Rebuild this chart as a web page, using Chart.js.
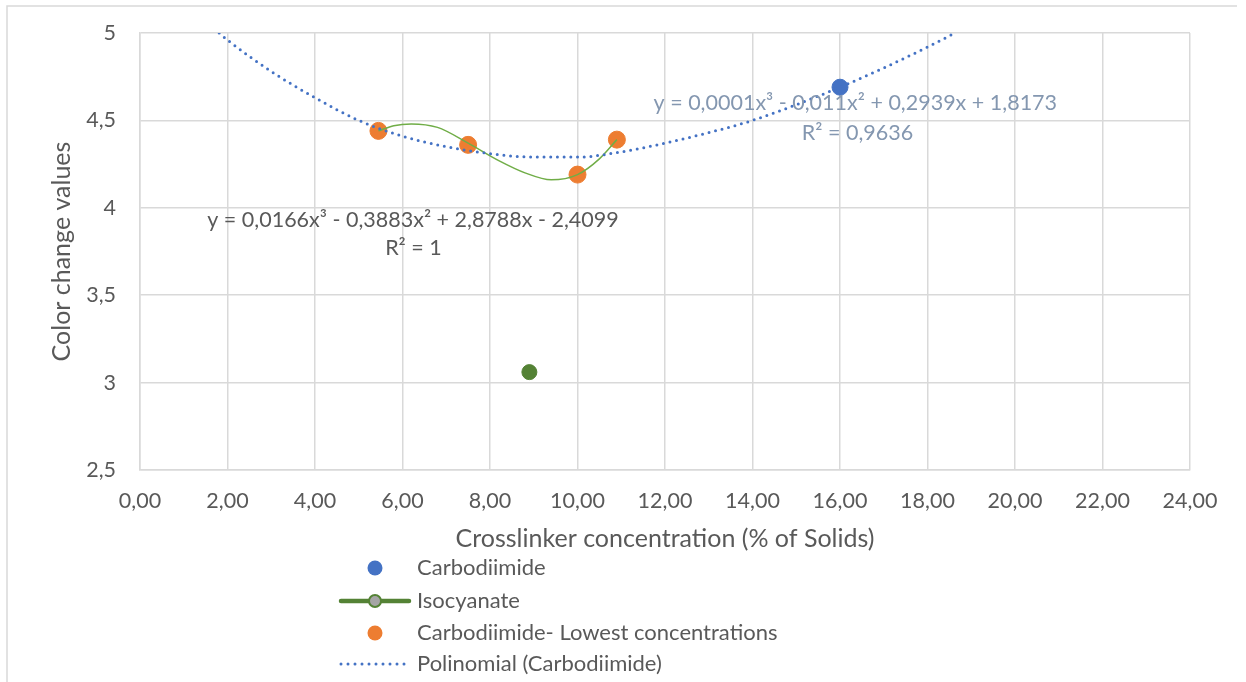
<!DOCTYPE html>
<html>
<head>
<meta charset="utf-8">
<script src="https://cdn.jsdelivr.net/npm/chart.js@4"></script>
<style>
  html, body { margin: 0; padding: 0; background: #fff; }
  #wrap { width: 1246px; height: 682px; }
</style>
</head>
<body>
<div id="wrap"><canvas id="colorChart" width="1246" height="682"></canvas></div>
<script>
// values
const carbX = [16.0];
const carbY = [4.69];
const isoX = [8.9];
const isoY = [3.06];
const lowX = [5.45, 7.5, 10.0, 10.9];
const lowY = [4.44, 4.36, 4.19, 4.39];
// dotted polynomial trendline (Carbodiimide)
const polyX = [1.81, 2, 3, 4, 5, 6, 7, 8, 9, 10, 11, 12, 13, 14, 15, 16, 17, 18, 18.63];
const polyY = [5.0, 4.96, 4.78, 4.63, 4.5, 4.41, 4.35, 4.31, 4.29, 4.29, 4.32, 4.37, 4.43, 4.5, 4.59, 4.69, 4.8, 4.92, 5.0];
// thin green trendline through the lowest-concentration points
const lowTrendX = [5.45, 5.8, 6.2, 6.8, 7.5, 8.2, 8.8, 9.4, 10.0, 10.5, 10.9];
const lowTrendY = [4.44, 4.47, 4.48, 4.46, 4.37, 4.27, 4.2, 4.16, 4.19, 4.28, 4.39];
const xTicks = [0, 2, 4, 6, 8, 10, 12, 14, 16, 18, 20, 22, 24];
const yTicks = [2.5, 3, 3.5, 4, 4.5, 5];

const toPts = (xs, ys) => xs.map((x, i) => ({ x: x, y: ys[i] }));
const FONT = 'Lato, "Open Sans", sans-serif';
const TXT = '#595959';

// legend list + equations + outer frame
const extras = {
    id: 'extras',
    afterDraw(chart) {
        const ctx = chart.ctx;
        const xs = chart.scales.x, ys = chart.scales.y;
        ctx.save();
        // frame (top and left edge only, like the cropped original)
        ctx.strokeStyle = '#d9d9d9';
        ctx.lineWidth = 1.5;
        ctx.beginPath();
        ctx.moveTo(7, 682);
        ctx.lineTo(7, 6);
        ctx.lineTo(1237, 6);
        ctx.stroke();

        // trendline equations
        ctx.textAlign = 'center';
        ctx.textBaseline = 'middle';
        ctx.font = '21.5px ' + FONT;
        ctx.fillStyle = '#8497B0';
        ctx.fillText('y = 0,0001x³ - 0,011x² + 0,2939x + 1,8173', xs.getPixelForValue(16.35), ys.getPixelForValue(4.6));
        ctx.fillText('R² = 0,9636', xs.getPixelForValue(16.4), ys.getPixelForValue(4.43));
        ctx.fillStyle = TXT;
        ctx.fillText('y = 0,0166x³ - 0,3883x² + 2,8788x - 2,4099', xs.getPixelForValue(6.24), ys.getPixelForValue(3.93));
        ctx.fillText('R² = 1', xs.getPixelForValue(6.25), ys.getPixelForValue(3.77));

        // legend
        const rowY = [568, 601, 633, 664];
        const mx = 375, tx = 417;
        const items = chart.data.datasets.filter(d => !d.hideInLegend);
        ctx.textAlign = 'left';
        ctx.font = '22px ' + FONT;
        items.forEach((d, i) => {
            const y = rowY[i];
            if (d.legendKind === 'dot') {
                ctx.fillStyle = d.backgroundColor;
                ctx.beginPath();
                ctx.arc(mx, y, 7.5, 0, Math.PI * 2);
                ctx.fill();
            } else if (d.legendKind === 'lineDot') {
                ctx.strokeStyle = d.borderColor;
                ctx.lineWidth = 4.5;
                ctx.lineCap = 'round';
                ctx.beginPath();
                ctx.moveTo(341, y);
                ctx.lineTo(409, y);
                ctx.stroke();
                ctx.fillStyle = '#a5a5a5';
                ctx.lineWidth = 2;
                ctx.beginPath();
                ctx.arc(mx, y, 6, 0, Math.PI * 2);
                ctx.fill();
                ctx.stroke();
            } else if (d.legendKind === 'dotted') {
                ctx.strokeStyle = d.borderColor;
                ctx.lineWidth = 3;
                ctx.lineCap = 'round';
                ctx.setLineDash([0, 7]);
                ctx.beginPath();
                ctx.moveTo(341, y);
                ctx.lineTo(409, y);
                ctx.stroke();
                ctx.setLineDash([]);
            }
            ctx.fillStyle = TXT;
            ctx.fillText(d.label, tx, y);
        });
        ctx.restore();
    }
};

new Chart(document.getElementById('colorChart').getContext('2d'), {
    type: 'scatter',
    data: {
        datasets: [{
            label: 'Carbodiimide',
            data: toPts(carbX, carbY),
            backgroundColor: '#4472C4',
            borderColor: '#4472C4',
            pointRadius: 8,
            legendKind: 'dot',
            order: 2
        }, {
            label: 'Isocyanate',
            data: toPts(isoX, isoY),
            backgroundColor: '#548235',
            borderColor: '#548235',
            pointRadius: 7.5,
            legendKind: 'lineDot',
            order: 2
        }, {
            label: 'Carbodiimide- Lowest concentrations',
            data: toPts(lowX, lowY),
            backgroundColor: '#ED7D31',
            borderColor: '#ED7D31',
            pointRadius: 8.5,
            legendKind: 'dot',
            order: 2
        }, {
            label: 'Polinomial (Carbodiimide)',
            data: toPts(polyX, polyY),
            showLine: true,
            borderColor: '#4472C4',
            borderWidth: 3,
            borderDash: [0, 6.7],
            borderCapStyle: 'round',
            cubicInterpolationMode: 'monotone',
            pointRadius: 0,
            legendKind: 'dotted',
            order: 0
        }, {
            label: 'low trend',
            data: toPts(lowTrendX, lowTrendY),
            showLine: true,
            borderColor: '#70AD47',
            borderWidth: 1.5,
            cubicInterpolationMode: 'monotone',
            pointRadius: 0,
            hideInLegend: true,
            order: 0
        }]
    },
    options: {
        responsive: false,
        animation: false,
        layout: { padding: { left: 0, top: 33, right: 56, bottom: 122 } },
        plugins: {
            legend: { display: false },
            tooltip: { enabled: false }
        },
        scales: {
            x: {
                type: 'linear',
                min: 0,
                max: 24,
                afterBuildTicks: s => { s.ticks = xTicks.map(v => ({ value: v })); },
                afterFit: s => { s.height = 90; },
                ticks: {
                    padding: 18,
                    color: TXT,
                    font: { family: FONT, size: 21.5 },
                    callback: v => v.toFixed(2).replace('.', ',')
                },
                grid: { color: '#d9d9d9', lineWidth: 1.5, drawTicks: false },
                border: { color: '#d9d9d9', width: 1.5 },
                title: {
                    display: true,
                    text: 'Crosslinker concentration (% of Solids)',
                    color: TXT,
                    font: { family: FONT, size: 25 },
                    padding: { top: 0, bottom: 6 }
                }
            },
            y: {
                type: 'linear',
                min: 2.5,
                max: 5,
                afterBuildTicks: s => { s.ticks = yTicks.map(v => ({ value: v })); },
                afterFit: s => { s.width = 140; },
                ticks: {
                    padding: 4,
                    color: TXT,
                    font: { family: FONT, size: 21.5 },
                    callback: v => String(v).replace('.', ',')
                },
                grid: { color: '#d9d9d9', lineWidth: 1.5, drawTicks: true, tickLength: 20, tickColor: 'rgba(0,0,0,0)' },
                border: { color: '#d9d9d9', width: 1.5 },
                title: {
                    display: true,
                    text: 'Color change values',
                    color: TXT,
                    font: { family: FONT, size: 25 },
                    padding: { top: 47, bottom: 0 }
                }
            }
        }
    },
    plugins: [extras]
});
</script>
</body>
</html>
